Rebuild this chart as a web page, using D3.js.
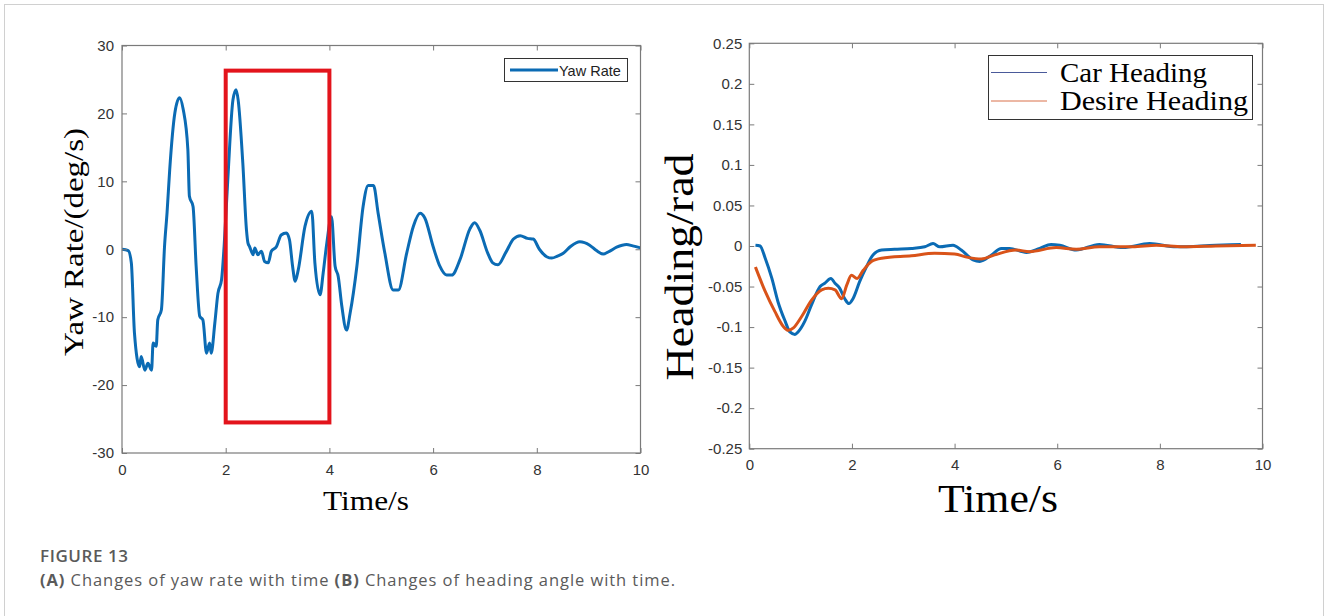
<!DOCTYPE html>
<html>
<head>
<meta charset="utf-8">
<script src="https://cdn.jsdelivr.net/npm/d3@7"></script>
<style>
  body { margin: 0; background: #fff; }
</style>
</head>
<body>
<svg id="fig" width="1328" height="616"></svg>
<script>
// (A) yaw rate against time
const yawTime = [0, 0.12, 0.18, 0.24, 0.34, 0.37, 0.44, 0.5, 0.57, 0.6, 0.66, 0.69, 0.76, 0.82, 0.87, 0.92, 1.02, 1.11, 1.18, 1.27, 1.3, 1.37, 1.43, 1.5, 1.56, 1.63, 1.69, 1.72, 1.79, 1.85, 1.92, 1.97, 2.04, 2.14, 2.2, 2.24, 2.33, 2.4, 2.43, 2.46, 2.53, 2.56, 2.62, 2.69, 2.75, 2.82, 2.88, 2.98, 3.07, 3.17, 3.23, 3.29, 3.34, 3.4, 3.53, 3.66, 3.72, 3.82, 3.88, 3.95, 4.04, 4.11, 4.17, 4.24, 4.33, 4.4, 4.53, 4.65, 4.75, 4.85, 4.94, 5.07, 5.23, 5.33, 5.49, 5.62, 5.75, 5.84, 6.0, 6.13, 6.26, 6.36, 6.52, 6.71, 6.8, 6.9, 7.05, 7.15, 7.25, 7.4, 7.55, 7.68, 7.82, 7.93, 8.05, 8.19, 8.29, 8.4, 8.51, 8.65, 8.83, 9.02, 9.15, 9.28, 9.4, 9.54, 9.73, 9.85, 10]
const yawRate = [0, -0.2, -2, -12.3, -17.3, -15.8, -17.8, -16.8, -17.8, -13.8, -14.3, -10.4, -8.9, 0.4, 5.5, 11.7, 20.1, 22.3, 20.6, 14.7, 7.8, 6.3, -2.5, -9.9, -10.4, -15.3, -13.8, -15.3, -10.9, -6.5, -4.5, 0.5, 10.2, 22, 23.5, 22, 12.7, 2.9, 0.9, 0.4, -0.8, 0.2, -0.8, -0.3, -1.8, -2, -0.3, 0.4, 2.1, 2.4, 1.4, -2.5, -4.7, -3, 3.4, 5.6, -2, -6.7, -3.5, 0.9, 4.8, -2.5, -4, -8.4, -11.9, -9.4, -2.5, 6.3, 9.4, 9.4, 5.3, -0.6, -6, -6, -0.6, 3.4, 5.3, 4.6, 0.4, -2.5, -3.8, -3.8, -1.5, 3, 3.9, 2.8, -0.5, -2, -2.3, -0.5, 1.5, 2, 1.6, 1.5, 0, -1.1, -1.3, -1, -0.6, 0.4, 1.1, 0.6, -0.2, -0.7, -0.3, 0.3, 0.7, 0.5, 0.2]

// red highlight box on (A)
const boxTime = [2, 4]
const boxRate = [-25.5, 26.3]

// (B) heading against time
const carTime = [0.12, 0.21, 0.31, 0.44, 0.56, 0.7, 0.79, 0.89, 0.95, 1.08, 1.21, 1.38, 1.47, 1.59, 1.67, 1.76, 1.86, 1.94, 2.02, 2.15, 2.28, 2.41, 2.58, 2.83, 3.16, 3.42, 3.58, 3.71, 3.97, 4.13, 4.36, 4.49, 4.72, 4.91, 5.07, 5.4, 5.66, 5.88, 6.05, 6.37, 6.82, 7.28, 7.8, 8.32, 9.09, 9.58]
const carHeading = [0.001, 0, -0.015, -0.04, -0.069, -0.093, -0.106, -0.109, -0.106, -0.093, -0.073, -0.05, -0.046, -0.04, -0.046, -0.052, -0.065, -0.071, -0.065, -0.044, -0.026, -0.011, -0.005, -0.004, -0.003, -0.001, 0.003, -0.001, 0.001, -0.005, -0.017, -0.019, -0.011, -0.003, -0.003, -0.008, -0.003, 0.002, 0.001, -0.005, 0.002, -0.002, 0.003, -0.001, 0.001, 0.002]
const desTime = [0.12, 0.31, 0.5, 0.66, 0.76, 0.86, 1.02, 1.21, 1.41, 1.54, 1.67, 1.8, 1.9, 1.99, 2.1, 2.22, 2.38, 2.58, 3.16, 3.61, 4, 4.26, 4.52, 4.78, 5.2, 5.46, 5.98, 6.37, 6.82, 7.47, 7.93, 8.45, 9.09, 9.87]
const desHeading = [-0.026, -0.056, -0.081, -0.099, -0.104, -0.101, -0.087, -0.067, -0.054, -0.052, -0.054, -0.065, -0.048, -0.036, -0.04, -0.03, -0.019, -0.015, -0.012, -0.009, -0.01, -0.014, -0.016, -0.011, -0.005, -0.007, -0.002, -0.004, -0.001, -0.001, 0.001, -0.001, 0, 0.001]

const timeTicks = [0, 2, 4, 6, 8, 10]
const yawTicks = [-30, -20, -10, 0, 10, 20, 30]
const headTicks = [-0.25, -0.2, -0.15, -0.1, -0.05, 0, 0.05, 0.1, 0.15, 0.2, 0.25]

const blue = '#0b6bb4'
const orange = '#d95319'
const axisGrey = '#7a7a7a'
const labelFont = '"Liberation Serif", "DejaVu Serif", serif'
const tickFont = '"Liberation Sans", Arial, sans-serif'

const svg = d3.select('#fig')

// outer frame of the figure panel
svg.append('rect')
  .attr('x', 4.5).attr('y', 4.5)
  .attr('width', 1319).attr('height', 640)
  .attr('fill', 'none').attr('stroke', '#d0d0d0')

// draws a matlab style box axes with ticks pointing in
function boxAxes (g, x, y, yTicks, pad) {
  const [x0, x1] = x.range()
  const [y1, y0] = y.range()
  const plain = v => String(+v.toFixed(2))
  g.append('g').attr('transform', `translate(0,${y1})`)
    .call(d3.axisBottom(x).tickValues(timeTicks).tickSize(-5).tickPadding(11).tickFormat(plain))
  g.append('g').attr('transform', `translate(0,${y0})`)
    .call(d3.axisTop(x).tickValues(timeTicks).tickSize(-5).tickFormat(''))
  g.append('g').attr('transform', `translate(${x0},0)`)
    .call(d3.axisLeft(y).tickValues(yTicks).tickSize(-5).tickPadding(pad).tickFormat(plain))
  g.append('g').attr('transform', `translate(${x1},0)`)
    .call(d3.axisRight(y).tickValues(yTicks).tickSize(-5).tickFormat(''))
  g.selectAll('.domain').remove()
  g.selectAll('.tick line').attr('stroke', axisGrey)
  g.selectAll('.tick text')
    .attr('font-family', tickFont).attr('font-size', 15).attr('fill', '#333')
  g.append('rect')
    .attr('x', x0).attr('y', y0)
    .attr('width', x1 - x0).attr('height', y1 - y0)
    .attr('fill', 'none').attr('stroke', axisGrey).attr('stroke-width', 1.2)
}

// ---------- panel A ----------
const xA = d3.scaleLinear().domain([0, 10]).range([122, 640.5])
const yA = d3.scaleLinear().domain([-30, 30]).range([453, 45.5])
const gA = svg.append('g')

const yawLine = d3.line()
  .x(i => xA(yawTime[i]))
  .y(i => yA(yawRate[i]))
  .curve(d3.curveMonotoneX)

gA.append('path')
  .attr('d', yawLine(d3.range(yawTime.length)))
  .attr('fill', 'none').attr('stroke', blue).attr('stroke-width', 3)
  .attr('stroke-linejoin', 'round')

gA.append('rect')
  .attr('x', xA(boxTime[0])).attr('y', yA(boxRate[1]))
  .attr('width', xA(boxTime[1]) - xA(boxTime[0]))
  .attr('height', yA(boxRate[0]) - yA(boxRate[1]))
  .attr('fill', 'none').attr('stroke', '#e3141c').attr('stroke-width', 4)

boxAxes(gA, xA, yA, yawTicks, 8)

// legend A
gA.append('rect').attr('x', 504.5).attr('y', 58.5).attr('width', 123).attr('height', 23)
  .attr('fill', '#fff').attr('stroke', '#333').attr('stroke-width', 1)
gA.append('line').attr('x1', 510).attr('x2', 558).attr('y1', 70).attr('y2', 70)
  .attr('stroke', blue).attr('stroke-width', 3)
gA.append('text').attr('x', 559).attr('y', 75.5)
  .attr('font-family', tickFont).attr('font-size', 14.5).attr('fill', '#222')
  .text('Yaw Rate')

gA.append('text')
  .attr('transform', 'translate(83,242) rotate(-90)')
  .attr('text-anchor', 'middle')
  .attr('font-family', labelFont).attr('font-size', 28)
  .attr('textLength', 228).attr('lengthAdjust', 'spacingAndGlyphs')
  .text('Yaw Rate/(deg/s)')
gA.append('text')
  .attr('x', 366).attr('y', 510)
  .attr('text-anchor', 'middle')
  .attr('font-family', labelFont).attr('font-size', 28)
  .attr('textLength', 86).attr('lengthAdjust', 'spacingAndGlyphs')
  .text('Time/s')

// ---------- panel B ----------
const xB = d3.scaleLinear().domain([0, 10]).range([749.3, 1262.5])
const yB = d3.scaleLinear().domain([-0.25, 0.25]).range([448.7, 43.3])
const gB = svg.append('g')

const carLine = d3.line()
  .x(i => xB(carTime[i]))
  .y(i => yB(carHeading[i]))
  .curve(d3.curveMonotoneX)
const desLine = d3.line()
  .x(i => xB(desTime[i]))
  .y(i => yB(desHeading[i]))
  .curve(d3.curveMonotoneX)

gB.append('path')
  .attr('d', carLine(d3.range(carTime.length)))
  .attr('fill', 'none').attr('stroke', blue).attr('stroke-width', 3)
gB.append('path')
  .attr('d', desLine(d3.range(desTime.length)))
  .attr('fill', 'none').attr('stroke', orange).attr('stroke-width', 3)

boxAxes(gB, xB, yB, headTicks, 7)

// legend B
gB.append('rect').attr('x', 988.5).attr('y', 55.5).attr('width', 264).attr('height', 64)
  .attr('fill', '#fff').attr('stroke', '#333').attr('stroke-width', 1)
const legB = [
  { name: 'Car Heading', color: '#4a5a9a', y: 72.5, len: 147 },
  { name: 'Desire Heading', color: '#d9704a', y: 101, len: 188 }
]
legB.forEach(d => {
  gB.append('line').attr('x1', 991).attr('x2', 1047).attr('y1', d.y).attr('y2', d.y)
    .attr('stroke', d.color).attr('stroke-width', 1)
  gB.append('text').attr('x', 1060).attr('y', d.y + 9)
    .attr('font-family', labelFont).attr('font-size', 27)
    .attr('textLength', d.len).attr('lengthAdjust', 'spacingAndGlyphs')
    .text(d.name)
})

gB.append('text')
  .attr('transform', 'translate(693,267) rotate(-90)')
  .attr('text-anchor', 'middle')
  .attr('font-family', labelFont).attr('font-size', 40)
  .attr('textLength', 227).attr('lengthAdjust', 'spacingAndGlyphs')
  .text('Heading/rad')
gB.append('text')
  .attr('x', 998).attr('y', 511.5)
  .attr('text-anchor', 'middle')
  .attr('font-family', labelFont).attr('font-size', 40)
  .attr('textLength', 120).attr('lengthAdjust', 'spacingAndGlyphs')
  .text('Time/s')

// ---------- caption ----------
svg.append('text').attr('x', 40).attr('y', 562)
  .attr('font-family', '"Open Sans", sans-serif').attr('font-size', 17).attr('font-weight', 600)
  .attr('fill', '#5a5a5a')
  .attr('textLength', 88).attr('lengthAdjust', 'spacing')
  .text('FIGURE 13')
const cap = svg.append('text').attr('x', 40).attr('y', 586)
  .attr('font-family', '"Open Sans", sans-serif').attr('font-size', 16.5)
  .attr('fill', '#5a5a5a')
  .attr('textLength', 635).attr('lengthAdjust', 'spacing')
cap.append('tspan').attr('font-weight', 700).text('(A)')
cap.append('tspan').text(' Changes of yaw rate with time ')
cap.append('tspan').attr('font-weight', 700).text('(B)')
cap.append('tspan').text(' Changes of heading angle with time.')
</script>
</body>
</html>
